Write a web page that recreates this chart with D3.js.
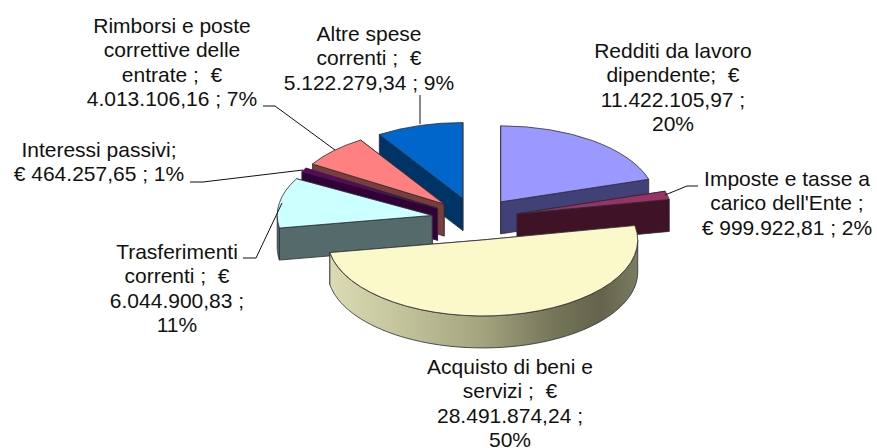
<!DOCTYPE html>
<html>
<head>
<meta charset="utf-8">
<script src="https://cdn.jsdelivr.net/npm/d3@7"></script>
<style>
  html, body { margin: 0; padding: 0; background: #fff; }
  svg { display: block; }
  text { font-family: "Liberation Sans", Arial, sans-serif; font-size: 21px; fill: #111; text-anchor: middle; white-space: pre; }
</style>
</head>
<body>
<script>
// les données
const CATEGORIES = [
  'Redditi da lavoro dipendente',
  "Imposte e tasse a carico dell'Ente",
  'Acquisto di beni e servizi',
  'Trasferimenti correnti',
  'Interessi passivi',
  'Rimborsi e poste correttive delle entrate',
  'Altre spese correnti',
]
const VALUES = [11422105.97, 999922.81, 28491874.24, 6044900.83, 464257.65, 4013106.16, 5122279.34]

// le texte des étiquettes, ligne par ligne
const LABELS = [
  ['Redditi da lavoro', 'dipendente;  €', '11.422.105,97 ;', '20%'],
  ['Imposte e tasse a', "carico dell'Ente ;", '€ 999.922,81 ; 2%'],
  ['Acquisto di beni e', 'servizi ;  €', '28.491.874,24 ;', '50%'],
  ['Trasferimenti', 'correnti ;  €', '6.044.900,83 ;', '11%'],
  ['Interessi passivi;', '€ 464.257,65 ; 1%'],
  ['Rimborsi e poste', 'correttive delle', 'entrate ;  €', '4.013.106,16 ; 7%'],
  ['Altre spese', 'correnti ;  €', '5.122.279,34 ; 9%'],
]

// les couleurs
const TOP_COLORS = ['#9999ff', '#993366', '#fbf9c9', '#ccffff', '#660066', '#ff8080', '#0066cc']
const WALL_COLORS = ['#414178', '#3f1226', 'url(#wallYellow)', '#556b6b', '#33003a', '#7a3c3c', '#003366']

// les dimensions
const WIDTH = 877
const HEIGHT = 448
const CX = 475
const CY = 219
const RX = 155
const RY = 76
const DEPTH = 32
const EXPLODE = 0.28

// position du centre de chaque étiquette et de sa première ligne
const LABEL_POS = [
  [673, 58], [787, 186], [510, 374], [177, 259],
  [99, 157], [172, 33], [369, 41],
]
const LINE_HEIGHT = 24.3

// les traits de rappel
const LEADERS = [
  null,
  [[665, 195], [687, 186], [698, 186]],
  null,
  [[282, 203], [256, 258], [243, 258]],
  [[303, 170], [203, 182], [190, 182]],
  [[335, 150], [275, 106], [263, 106]],
  [[420, 124], [420, 95]],
]

const svg = d3.select('body')
  .append('svg')
  .attr('width', WIDTH)
  .attr('height', HEIGHT)

// le dégradé de la paroi jaune
const grad = svg.append('defs').append('linearGradient')
  .attr('id', 'wallYellow')
  .attr('gradientUnits', 'userSpaceOnUse')
  .attr('x1', 330).attr('x2', 638)
  .attr('y1', 0).attr('y2', 0)
grad.selectAll('stop')
  .data([[0, '#dcdcb4'], [0.2, '#c6c69f'], [0.5, '#a3a37e'], [0.72, '#76765a'], [0.88, '#64644c'], [1, '#7c7c62']])
  .enter().append('stop')
  .attr('offset', d => d[0])
  .attr('stop-color', d => d[1])

// les angles viennent de d3.pie, dans l'ordre des données
const pie = d3.pie().sort(null)
const slices = pie(VALUES).map((d, i) => {
  const mid = (d.startAngle + d.endAngle) / 2
  return {
    ...d, i, mid,
    ox: CX + Math.sin(mid) * RX * EXPLODE,
    oy: CY - Math.cos(mid) * RY * EXPLODE,
  }
})

const arc = d3.arc().innerRadius(0).outerRadius(RX)

// un point du bord de l'ellipse
const pt = (s, a, dz) => [s.ox + Math.sin(a) * RX, s.oy - Math.cos(a) * RY + dz]

const line = d3.line()

function radialWall(s, a) {
  return line([[s.ox, s.oy], pt(s, a, 0), pt(s, a, DEPTH), [s.ox, s.oy + DEPTH]]) + 'Z'
}

// la paroi courbe: seulement la partie tournée vers nous (90° à 270°)
function outerWall(s) {
  const a0 = Math.max(s.startAngle, Math.PI / 2)
  const a1 = Math.min(s.endAngle, Math.PI * 1.5)
  if (a1 <= a0) return null
  const angles = d3.range(0, 61).map(k => a0 + (a1 - a0) * k / 60)
  const top = angles.map(a => pt(s, a, 0))
  const bottom = angles.slice().reverse().map(a => pt(s, a, DEPTH))
  return line(top.concat(bottom)) + 'Z'
}

// dessiner de l'arrière vers l'avant
const groups = svg.selectAll('g.slice')
  .data(slices.slice().sort((a, b) => Math.cos(b.mid) - Math.cos(a.mid)))
  .enter().append('g')
  .attr('class', 'slice')
  .attr('stroke', '#2b2b33')
  .attr('stroke-width', 0.8)
  .attr('stroke-linejoin', 'round')

// la paroi droite du fond d'abord, celle de devant ensuite
const backAngle = d => Math.cos(d.startAngle) > Math.cos(d.endAngle) ? d.startAngle : d.endAngle
const frontAngle = d => Math.cos(d.startAngle) > Math.cos(d.endAngle) ? d.endAngle : d.startAngle

groups.append('path')
  .attr('d', d => radialWall(d, backAngle(d)))
  .attr('fill', d => d.i === 2 ? '#a3a37e' : WALL_COLORS[d.i])
groups.append('path')
  .attr('d', d => radialWall(d, frontAngle(d)))
  .attr('fill', d => d.i === 2 ? '#a3a37e' : WALL_COLORS[d.i])
groups.filter(d => outerWall(d) !== null).append('path')
  .attr('d', d => outerWall(d))
  .attr('fill', d => WALL_COLORS[d.i])
groups.append('path')
  .attr('d', d => arc(d))
  .attr('transform', d => `translate(${d.ox},${d.oy}) scale(1,${RY / RX})`)
  .attr('vector-effect', 'non-scaling-stroke')
  .attr('fill', d => TOP_COLORS[d.i])

// les traits de rappel
svg.selectAll('path.leader')
  .data(LEADERS.filter(d => d))
  .enter().append('path')
  .attr('class', 'leader')
  .attr('d', d => line(d))
  .attr('fill', 'none')
  .attr('stroke', '#111')
  .attr('stroke-width', 1)

// les étiquettes
const labels = svg.selectAll('text.label')
  .data(LABELS)
  .enter().append('text')
  .attr('class', 'label')
  .attr('x', (d, i) => LABEL_POS[i][0])
  .attr('y', (d, i) => LABEL_POS[i][1])

labels.selectAll('tspan')
  .data((d, i) => d.map(t => ({ t, x: LABEL_POS[i][0] })))
  .enter().append('tspan')
  .attr('x', d => d.x)
  .attr('dy', (d, k) => k === 0 ? 0 : LINE_HEIGHT)
  .text(d => d.t)
</script>
</body>
</html>
